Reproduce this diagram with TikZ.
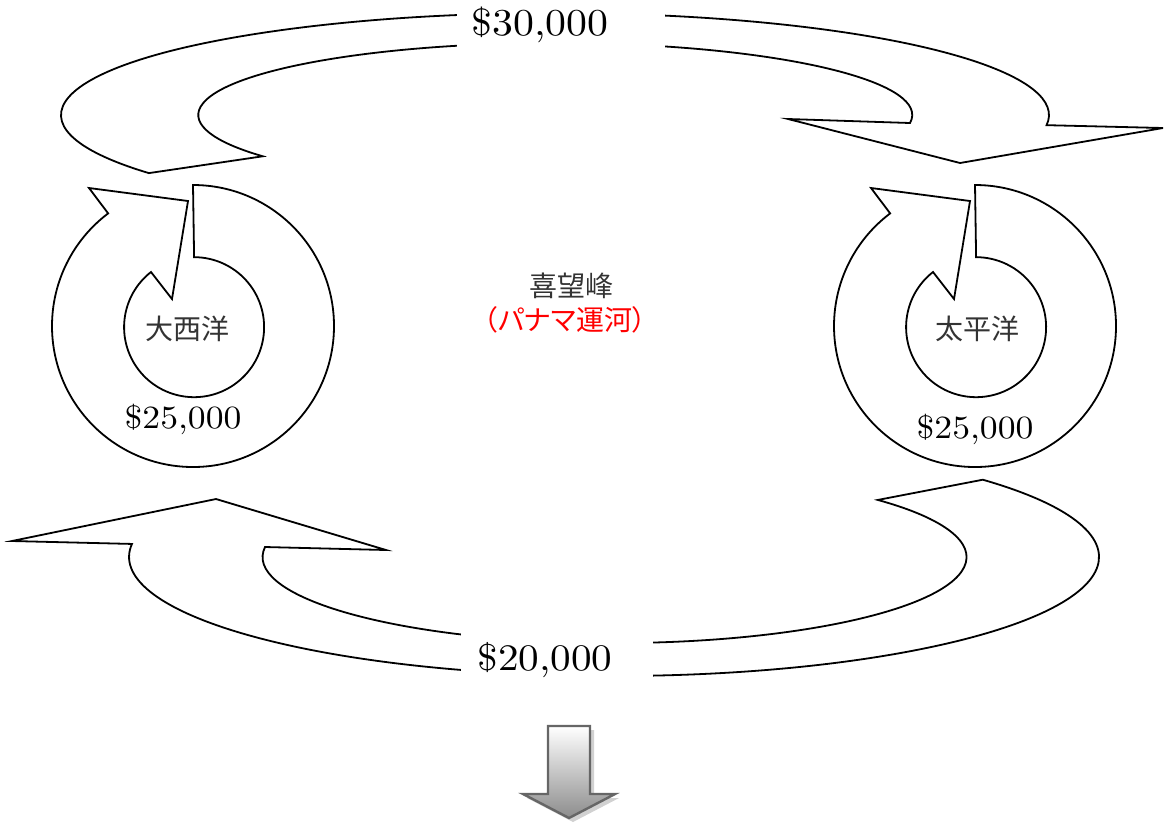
\documentclass[tikz,border=0pt]{standalone}
\usepackage{fontspec}
\newfontfamily\jp{Noto Sans CJK JP}
\newfontfamily\jpp[RawFeature=+palt]{Noto Sans CJK JP}
\begin{document}
\begin{tikzpicture}[x=0.5pt,y=0.5pt,
  band/.style={draw=black,fill=white,line width=0.9pt,line join=miter},
  money/.style={inner sep=0pt,anchor=base,font=\fontsize{10pt}{12pt}\selectfont},
  jlabel/.style={inner sep=0pt,text=black!80,font=\jp\fontsize{14pt}{16pt}\selectfont},
  cyclearrow/.pic={
    \draw[band] (0,141) arc[start angle=90,end angle=-233,radius=141]
      -- (-104,138) -- (-5,125) -- (-21,27) -- (-42,54)
      arc[start angle=-232,end angle=90,radius=70] -- cycle;
  }]
\useasboundingbox (0,0) rectangle (1165,-826);
% top curved arrow
\draw[band] (148.9,-173.1) arc[start angle=214.7,end angle=-5.7,x radius=494,y radius=102]
  -- (1163,-128) -- (960,-163) -- (788,-119) -- (910,-123)
  arc[start angle=-6.4,end angle=215,x radius=357,y radius=72] -- cycle;
% bottom curved arrow
\draw[band] (982.8,-479.7) arc[start angle=40.5,end angle=-186.3,x radius=485,y radius=119]
  -- (12,-541) -- (216,-499) -- (386,-550) -- (265,-547)
  arc[start angle=-186.7,end angle=41.6,x radius=352,y radius=86] -- cycle;
% gaps for the labels
\fill[white] (457,-2) rectangle (665,-58);
\fill[white] (461,-618) rectangle (653,-692);
% circular arrows
\pic at (193,-326) {cyclearrow};
\pic at (975,-326) {cyclearrow};
% labels
\node[money] (top) at (540,-35) {\scalebox{2.09}[1.9]{\$30,000}};
\node[money] (bottom) at (545,-670) {\scalebox{2.06}[1.87]{\$20,000}};
\node[money] (lv) at (183,-428) {\scalebox{1.78}[1.62]{\$25,000}};
\node[money] (rv) at (975,-438) {\scalebox{1.78}[1.62]{\$25,000}};
\node[jlabel] (atl) at (187.5,-329) {大西洋};
\node[jlabel] (pac) at (977,-329) {太平洋};
\node[jlabel] (cape) at (571,-286) {喜望峰};
\node[inner sep=0pt,text=red,font=\jpp\fontsize{14pt}{16pt}\selectfont] (panama) at (565,-320) {（パナマ運河）};
% down arrow
\fill[black!30,opacity=0.6] (552,-730) -- (594,-730) -- (594,-798) -- (619,-798) -- (573,-822) -- (527,-798) -- (552,-798) -- cycle;
\draw[draw=black!60,line width=1.2pt,top color=white,bottom color=black!45]
  (548,-726) -- (590,-726) -- (590,-794) -- (615,-794) -- (569,-818) -- (523,-794) -- (548,-794) -- cycle;
\end{tikzpicture}
\end{document}
